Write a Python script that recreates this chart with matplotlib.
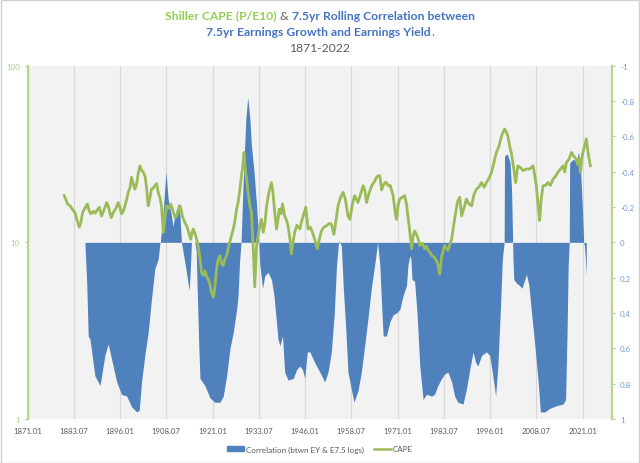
import matplotlib
matplotlib.use("Agg")
import matplotlib.pyplot as plt
from matplotlib.patches import Patch, Rectangle
from matplotlib.lines import Line2D
from matplotlib.ticker import NullLocator

plt.rcParams['font.family'] = ['Lato', 'DejaVu Sans']

# x axis tick labels (year.month)
tick_labels = ['1871.01', '1883.07', '1896.01', '1908.07', '1921.01', '1933.07', '1946.01',
               '1958.07', '1971.01', '1983.07', '1996.01', '2008.07', '2021.01']

# Shiller CAPE (P/E10)
cape_year = [1880.9, 1881.3, 1881.8, 1882.5, 1883.2, 1883.8, 1884.4, 1885.0, 1885.4, 1885.9,
             1886.5, 1887.2, 1887.6, 1888.1, 1888.8, 1889.3, 1889.7, 1890.4, 1891.0, 1891.7,
             1892.4, 1892.9, 1893.3, 1893.6, 1894.2, 1894.9, 1895.5, 1896.0, 1896.4, 1896.9,
             1897.3, 1897.8, 1898.2, 1898.7, 1899.1, 1899.5, 1900.0, 1900.5, 1900.9, 1901.4,
             1901.8, 1902.3, 1902.8, 1903.2, 1903.6, 1904.0, 1904.5, 1905.0, 1905.4, 1905.9,
             1906.3, 1906.8, 1907.2, 1907.7, 1908.1, 1908.6, 1909.2, 1909.7, 1910.0, 1910.4,
             1910.9, 1911.3, 1911.7, 1912.2, 1912.6, 1912.9, 1913.5, 1914.0, 1914.5, 1915.1,
             1915.5, 1915.8, 1916.3, 1916.7, 1917.2, 1917.6, 1918.0, 1918.5, 1918.9, 1919.4,
             1919.8, 1920.3, 1920.7, 1921.2, 1921.6, 1922.1, 1922.5, 1923.0, 1923.4, 1923.9,
             1924.3, 1924.8, 1925.4, 1926.1, 1926.6, 1927.0, 1927.5, 1927.9, 1928.4, 1928.8,
             1929.2, 1929.5, 1929.9, 1930.2, 1930.6, 1931.1, 1931.5, 1932.0, 1932.4, 1932.9,
             1933.3, 1933.8, 1934.2, 1934.7, 1935.2, 1935.6, 1936.2, 1936.9, 1937.3, 1937.8,
             1938.3, 1938.7, 1939.0, 1939.5, 1939.9, 1940.5, 1941.0, 1941.4, 1941.9, 1942.3,
             1942.8, 1943.2, 1943.8, 1944.6, 1945.0, 1945.5, 1946.2, 1946.8, 1947.4, 1948.0,
             1948.6, 1949.3, 1949.8, 1950.4, 1951.1, 1951.8, 1952.5, 1953.1, 1953.8, 1954.4,
             1954.9, 1955.6, 1956.3, 1956.9, 1957.6, 1958.1, 1958.8, 1959.4, 1960.3, 1960.9,
             1961.7, 1962.2, 1962.6, 1963.3, 1964.0, 1964.7, 1965.3, 1965.7, 1966.2, 1966.7,
             1967.1, 1967.6, 1968.0, 1968.4, 1969.0, 1969.8, 1970.4, 1970.7, 1971.2, 1971.6,
             1972.3, 1972.9, 1973.4, 1973.8, 1974.3, 1974.8, 1975.2, 1975.6, 1976.2, 1976.6,
             1977.0, 1977.7, 1978.3, 1978.8, 1979.3, 1979.7, 1980.3, 1981.0, 1981.6, 1982.0,
             1982.4, 1982.9, 1983.7, 1984.6, 1985.6, 1986.4, 1987.2, 1987.8, 1988.3, 1989.0,
             1989.6, 1990.3, 1991.0, 1991.6, 1992.3, 1993.0, 1993.7, 1994.4, 1995.0, 1995.7,
             1996.4, 1997.0, 1997.7, 1998.4, 1999.1, 1999.9, 2000.3, 2000.8, 2001.3, 2001.8,
             2002.4, 2002.9, 2003.5, 2004.2, 2004.9, 2005.8, 2006.7, 2007.6, 2008.0, 2008.5,
             2009.0, 2009.4, 2009.8, 2010.3, 2011.0, 2011.6, 2012.3, 2013.0, 2013.6, 2014.3,
             2015.0, 2015.7, 2016.2, 2016.6, 2017.3, 2018.0, 2018.5, 2018.9, 2019.3, 2019.6,
             2020.0, 2020.4, 2020.8, 2021.1, 2021.6, 2022.0, 2022.6, 2023.1]
cape_val = [18.4, 17.6, 16.5, 16.1, 15.3, 14.8, 13.3, 12.2, 12.9, 14.8,
            15.6, 16.5, 15.2, 14.5, 15.0, 14.6, 15.1, 15.8, 14.1, 15.3,
            16.8, 15.9, 14.5, 13.8, 14.8, 15.6, 16.8, 15.7, 14.5, 15.0,
            16.1, 17.5, 19.2, 20.4, 23.3, 21.8, 20.0, 21.5, 24.5, 27.1,
            25.6, 24.9, 23.5, 20.0, 16.1, 17.5, 20.0, 20.3, 20.9, 21.5,
            19.2, 17.8, 16.1, 11.4, 13.6, 16.1, 15.6, 16.5, 15.8, 14.8,
            13.8, 14.1, 15.2, 16.1, 15.0, 13.9, 13.0, 12.4, 11.5, 10.4,
            11.4, 11.9, 11.2, 10.4, 9.3, 8.1, 6.8, 6.5, 6.9, 6.4,
            6.2, 5.8, 5.2, 4.9, 5.5, 7.1, 8.0, 8.4, 7.6, 7.4,
            8.0, 8.4, 9.6, 10.9, 11.9, 13.0, 15.4, 16.8, 20.0, 23.8,
            27.0, 32.3, 25.0, 22.8, 19.2, 16.1, 14.8, 9.2, 5.6, 9.6,
            10.9, 12.5, 13.5, 11.4, 13.0, 16.1, 19.0, 21.8, 19.5, 14.8,
            11.9, 13.5, 15.4, 14.5, 16.5, 14.1, 13.3, 12.4, 10.5, 8.6,
            10.2, 11.4, 12.5, 11.9, 13.0, 14.1, 15.8, 11.9, 12.2, 11.4,
            10.4, 9.2, 10.3, 11.6, 12.2, 12.4, 12.8, 12.7, 11.1, 13.5,
            16.1, 18.0, 19.2, 17.5, 14.1, 13.5, 16.5, 18.4, 16.8, 18.5,
            20.9, 19.5, 16.8, 19.0, 20.9, 22.0, 23.3, 23.8, 23.8, 19.8,
            20.9, 21.8, 21.8, 21.0, 21.0, 18.4, 14.5, 13.5, 16.5, 17.6,
            18.0, 18.4, 16.5, 14.1, 11.5, 9.2, 10.8, 11.6, 11.0, 10.4,
            9.6, 9.9, 9.2, 9.5, 9.0, 8.8, 8.4, 8.2, 7.8, 7.3,
            6.6, 8.3, 9.6, 9.0, 10.4, 13.5, 17.0, 18.0, 14.1, 15.8,
            17.6, 16.5, 16.1, 18.5, 20.0, 20.6, 21.8, 20.5, 21.8, 23.0,
            24.9, 28.0, 32.3, 35.0, 40.1, 43.8, 42.5, 40.1, 35.0, 31.6,
            26.0, 21.8, 27.1, 26.5, 25.5, 26.0, 26.0, 27.1, 24.5, 20.9,
            16.0, 13.3, 17.5, 20.9, 21.0, 21.8, 21.0, 22.8, 23.5, 24.9,
            26.0, 27.1, 25.0, 28.3, 29.5, 32.3, 31.0, 30.2, 29.5, 27.7,
            30.0, 24.9, 30.0, 32.3, 35.5, 38.5, 30.9, 27.1]

# 7.5yr rolling correlation (btwn EY & E7.5 logs)
corr_year = [1886.5, 1887.0, 1887.4, 1887.9, 1889.2, 1890.6, 1891.9, 1892.8, 1893.7, 1895.1,
             1896.4, 1897.8, 1899.1, 1900.5, 1901.2, 1901.8, 1902.7, 1903.6, 1904.5, 1905.4,
             1906.3, 1906.8, 1906.9, 1907.7, 1908.4, 1909.0, 1909.9, 1910.3, 1910.8, 1911.7,
             1912.2, 1912.6, 1913.0, 1913.8, 1914.3, 1914.7, 1915.0, 1915.3, 1916.2, 1916.6,
             1916.8, 1917.1, 1917.3, 1917.6, 1918.9, 1920.3, 1921.6, 1923.0, 1923.9, 1924.8,
             1925.7, 1926.6, 1927.5, 1927.9, 1928.3, 1928.7, 1929.3, 1930.0, 1930.5, 1931.1,
             1931.5, 1932.2, 1932.9, 1933.5, 1933.8, 1934.5, 1935.1, 1936.0, 1936.9, 1937.6,
             1938.7, 1939.2, 1939.9, 1940.5, 1941.4, 1942.8, 1943.7, 1944.6, 1945.3, 1945.9,
             1946.6, 1947.3, 1948.6, 1950.0, 1951.3, 1952.2, 1953.1, 1953.9, 1954.5, 1955.1,
             1955.8, 1956.3, 1957.0, 1957.6, 1958.5, 1959.2, 1960.3, 1961.2, 1962.1, 1963.0,
             1963.9, 1964.8, 1965.6, 1966.2, 1966.7, 1967.1, 1968.0, 1968.9, 1969.8, 1970.7,
             1971.6, 1972.5, 1973.4, 1973.8, 1974.3, 1974.6, 1974.9, 1975.6, 1976.3, 1977.0,
             1977.9, 1978.8, 1980.2, 1981.0, 1981.9, 1982.9, 1983.7, 1984.6, 1985.6, 1986.4,
             1987.3, 1988.7, 1989.6, 1990.5, 1991.4, 1992.1, 1992.7, 1993.7, 1995.0, 1995.9,
             1996.6, 1997.5, 1998.1, 1998.9, 1999.3, 1999.8, 1999.9, 2000.7, 2001.4, 2001.8,
             2002.1, 2002.2, 2002.4, 2003.1, 2004.0, 2004.6, 2005.4, 2005.8, 2006.5, 2007.2,
             2008.1, 2009.0, 2009.6, 2010.8, 2012.1, 2013.9, 2015.7, 2016.4, 2016.8, 2017.1,
             2017.4, 2017.5, 2018.4, 2019.3, 2019.9, 2020.4, 2020.9, 2021.3, 2021.5, 2021.8,
             2022.0]
corr_val = [0.0, 0.23, 0.53, 0.55, 0.755, 0.81, 0.64, 0.575, 0.66, 0.79,
            0.86, 0.87, 0.93, 0.96, 0.95, 0.79, 0.64, 0.51, 0.32, 0.15,
            0.095, 0.0, 0.0, -0.19, -0.40, -0.245, -0.15, -0.09, -0.15, -0.22,
            -0.15, 0.0, 0.05, 0.15, 0.22, 0.27, 0.15, 0.0, 0.0, 0.05,
            0.23, 0.45, 0.6, 0.77, 0.81, 0.88, 0.905, 0.905, 0.87, 0.755,
            0.6, 0.51, 0.38, 0.30, 0.11, 0.0, -0.36, -0.70, -0.82, -0.70,
            -0.55, -0.40, -0.21, 0.0, 0.13, 0.26, 0.19, 0.17, 0.21, 0.30,
            0.55, 0.585, 0.53, 0.735, 0.78, 0.77, 0.72, 0.70, 0.72, 0.77,
            0.62, 0.62, 0.68, 0.735, 0.79, 0.735, 0.62, 0.40, 0.13, -0.01,
            0.02, 0.245, 0.49, 0.735, 0.83, 0.905, 0.84, 0.735, 0.585, 0.43,
            0.26, 0.13, 0.0, 0.13, 0.36, 0.53, 0.53, 0.45, 0.41, 0.40,
            0.38, 0.30, 0.245, 0.13, 0.075, 0.095, 0.21, 0.22, 0.415, 0.70,
            0.89, 0.86, 0.87, 0.86, 0.81, 0.77, 0.745, 0.735, 0.79, 0.87,
            0.905, 0.915, 0.83, 0.72, 0.62, 0.68, 0.70, 0.64, 0.62, 0.64,
            0.735, 0.87, 0.70, 0.32, 0.095, 0.0, -0.49, -0.50, -0.45, -0.30,
            0.0, 0.1, 0.21, 0.23, 0.245, 0.26, 0.21, 0.18, 0.245, 0.40,
            0.585, 0.79, 0.96, 0.96, 0.94, 0.925, 0.915, 0.89, 0.51, 0.13,
            0.0, -0.45, -0.47, -0.46, -0.51, -0.43, -0.21, 0.0, 0.02, 0.11,
            0.19]

corr_ticks = [-1, -0.8, -0.6, -0.4, -0.2, 0, 0.2, 0.4, 0.6, 0.8, 1]
cape_ticks = [1, 10, 100]

BLUE = '#4F81BD'
GREEN_LINE = '#9BBB59'
GRID = '#D9D9D9'
GRAY_TXT = '#595959'

xticks = [int(s[:4]) + (int(s[5:]) - 1) / 12 for s in tick_labels]

fig = plt.figure(figsize=(6.4, 4.64), dpi=100)
fig.patches.append(Rectangle((0.001, 0.001), 0.997, 0.997, transform=fig.transFigure,
                             fill=False, ec='#D0D0D0', lw=1))

# correlation area (right axis, inverted) is the base axes
ax = fig.add_axes([0.043, 0.0948, 0.913, 0.7615])
ax.set_facecolor('#F2F2F2')
ax.fill_between(corr_year, 0, corr_val, color=BLUE, lw=0, zorder=2)
ax.set_xlim(1871, 2028.9)
ax.set_ylim(1, -1)
ax.set_axisbelow(True)
ax.set_xticks(xticks, labels=tick_labels)
ax.tick_params(axis='x', length=0, pad=5.5, labelsize=5.6, labelcolor=GRAY_TXT)
ax.grid(axis='x', color=GRID, lw=0.9)
ax.set_yticks([-1, 0, 1], minor=True)
ax.grid(axis='y', which='minor', color=GRID, lw=0.9)

# CAPE line on a log axis drawn above
axc = ax.twinx()
axc.plot(cape_year, cape_val, color=GREEN_LINE, lw=2.0, solid_joinstyle='round')
axc.set_yscale('log')
axc.set_ylim(1, 100)
axc.set_yticks(cape_ticks, labels=[str(v) for v in cape_ticks])
axc.yaxis.set_minor_locator(NullLocator())
axc.yaxis.tick_left()
axc.tick_params(axis='y', length=2.5, color='#A9D18E', pad=3, labelsize=5.8,
                labelcolor='#A9D18E')

ax.yaxis.tick_right()
ax.set_yticks(corr_ticks, labels=['{:g}'.format(v) for v in corr_ticks])
ax.tick_params(axis='y', which='major', length=2.5, color='#A9D18E', pad=3.5,
               labelsize=5.8, labelcolor='#7A9BD6')
ax.tick_params(axis='y', which='minor', length=0)

for s in ['top', 'bottom', 'left']:
    ax.spines[s].set_visible(False)
ax.spines['right'].set_color('#B4D88F')
ax.spines['right'].set_linewidth(1.6)
for s in ['top', 'bottom', 'right']:
    axc.spines[s].set_visible(False)
axc.spines['left'].set_color('#B4D88F')
axc.spines['left'].set_linewidth(1.6)


def rich_line(y, parts, size):
    texts = [fig.text(0, y, s, color=c, fontweight=w, fontsize=size, va='center')
             for s, c, w in parts]
    r = fig.canvas.get_renderer()
    widths = [t.get_window_extent(r).width for t in texts]
    x = (fig.bbox.width - sum(widths)) / 2
    for t, w in zip(texts, widths):
        t.set_x(x / fig.bbox.width)
        x += w


TGREEN = '#92D050'
TBLUE = '#4472C4'
rich_line(1 - 16 / 464, [('Shiller CAPE (P/E10)', TGREEN, 'bold'), (' & ', GRAY_TXT, 'normal'),
                         ('7.5yr Rolling Correlation between', TBLUE, 'bold')], 8.7)
rich_line(1 - 32 / 464, [('7.5yr Earnings Growth and Earnings Yield', TBLUE, 'bold'),
                         (',', GRAY_TXT, 'normal')], 8.7)
rich_line(1 - 48 / 464, [('1871-2022', GRAY_TXT, 'normal')], 8.7)

handles = [Patch(color=BLUE, label='Correlation (btwn EY & E7.5 logs)'),
           Line2D([], [], color=GREEN_LINE, lw=1.8, label='CAPE')]
fig.legend(handles=handles, loc='center', bbox_to_anchor=(0.5, 1 - 450 / 464), ncol=2,
           frameon=False, fontsize=5.8, labelcolor=GRAY_TXT, handlelength=2.2,
           handleheight=0.6, handletextpad=0.2, columnspacing=1.2)

fig.savefig('out.png', dpi=100)
